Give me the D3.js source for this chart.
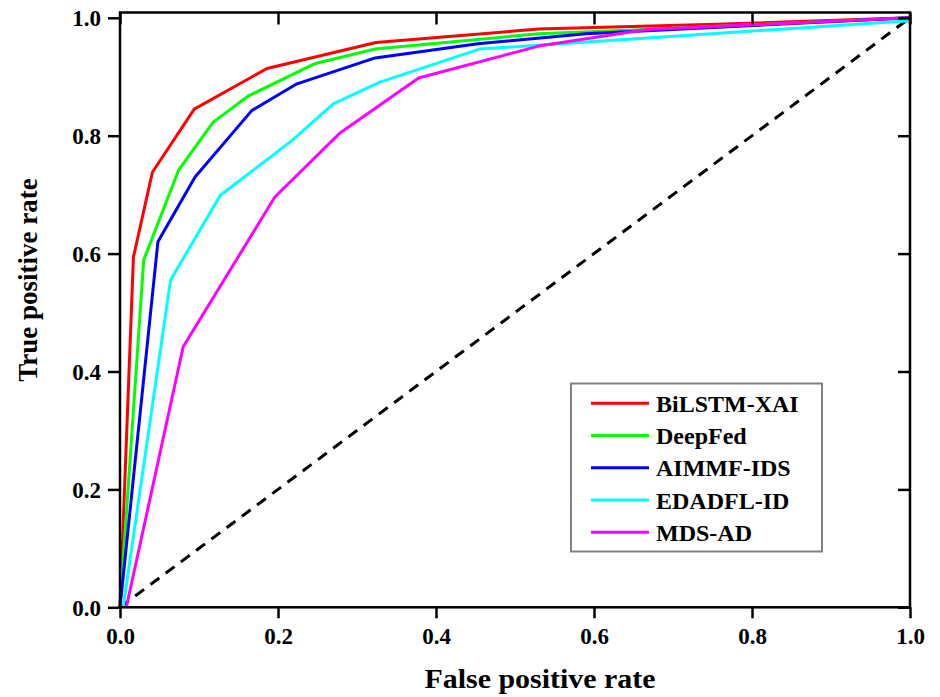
<!DOCTYPE html>
<html>
<head>
<meta charset="utf-8">
<script src="https://cdn.jsdelivr.net/npm/d3@7"></script>
<style>
  html, body { margin: 0; padding: 0; background: #fff; }
  svg { display: block; }
  text { font-family: "Liberation Serif", "Times New Roman", serif; font-weight: bold; fill: #000; }
</style>
</head>
<body>
<svg id="chart" width="940" height="697"></svg>
<script>
// ---- data ----
const seriesNames = ["BiLSTM-XAI", "DeepFed", "AIMMF-IDS", "EDADFL-ID", "MDS-AD"];
const seriesColors = ["#ff0000", "#00ff00", "#0000ff", "#00ffff", "#ff00ff"];

const bilstmFpr = [0, 0.017, 0.041, 0.094, 0.186, 0.324, 0.53, 0.754, 1];
const bilstmTpr = [0, 0.594, 0.738, 0.845, 0.914, 0.958, 0.981, 0.989, 1];

const deepfedFpr = [0, 0.030, 0.074, 0.118, 0.162, 0.246, 0.323, 0.53, 0.667, 1];
const deepfedTpr = [0, 0.589, 0.741, 0.823, 0.867, 0.922, 0.947, 0.973, 0.98, 1];

const aimmfFpr = [0, 0.048, 0.095, 0.167, 0.224, 0.323, 0.453, 0.59, 1];
const aimmfTpr = [0, 0.620, 0.730, 0.843, 0.888, 0.932, 0.956, 0.973, 1];

const edadflFpr = [0.004, 0.064, 0.127, 0.218, 0.27, 0.329, 0.455, 1];
const edadflTpr = [0, 0.555, 0.699, 0.792, 0.854, 0.891, 0.947, 0.995];

const mdsFpr = [0.008, 0.08, 0.196, 0.278, 0.378, 0.53, 0.667, 1];
const mdsTpr = [0, 0.442, 0.696, 0.804, 0.898, 0.952, 0.98, 1];

const chanceFpr = [0, 1];
const chanceTpr = [0, 1];

const tickValues = [0, 0.2, 0.4, 0.6, 0.8, 1.0];
const xTitle = "False positive rate";
const yTitle = "True positive rate";

// ---- build ----
const seriesFpr = [bilstmFpr, deepfedFpr, aimmfFpr, edadflFpr, mdsFpr];
const seriesTpr = [bilstmTpr, deepfedTpr, aimmfTpr, edadflTpr, mdsTpr];
const series = seriesNames.map((name, i) => ({
  name, color: seriesColors[i],
  points: seriesFpr[i].map((f, j) => [f, seriesTpr[i][j]])
}));

const svg = d3.select("#chart");
const x = d3.scaleLinear().domain([0, 1]).range([120, 910]);
const y = d3.scaleLinear().domain([0, 1.009]).range([607.3, 12.5]);

const line = d3.line().x(d => x(d[0])).y(d => y(d[1]));

// chance diagonal
svg.append("path")
  .datum(chanceFpr.map((f, i) => [f, chanceTpr[i]]))
  .attr("d", line)
  .attr("fill", "none")
  .attr("stroke", "#000")
  .attr("stroke-width", 3)
  .attr("stroke-dasharray", "11,8");

// series
svg.append("g").selectAll("path")
  .data(series)
  .join("path")
  .attr("d", d => line(d.points))
  .attr("fill", "none")
  .attr("stroke", d => d.color)
  .attr("stroke-width", 3)
  .attr("stroke-linejoin", "round");

// axes
const fmt = d3.format(".1f");
const bottomAxis = svg.append("g").attr("transform", `translate(0,${y(0)})`)
  .call(d3.axisBottom(x).tickValues(tickValues).tickFormat(fmt).tickSize(11).tickPadding(9));
const leftAxis = svg.append("g").attr("transform", `translate(${x(0)},0)`)
  .call(d3.axisLeft(y).tickValues(tickValues).tickFormat(fmt).tickSize(12).tickPadding(7));
const topAxis = svg.append("g").attr("transform", `translate(0,${y.range()[1]})`)
  .call(d3.axisBottom(x).tickValues(tickValues).tickFormat("").tickSize(12));
const rightAxis = svg.append("g").attr("transform", `translate(${x(1)},0)`)
  .call(d3.axisLeft(y).tickValues(tickValues).tickFormat("").tickSize(12));

[bottomAxis, leftAxis, topAxis, rightAxis].forEach(g => {
  g.select(".domain").remove();
  g.selectAll(".tick line").attr("stroke", "#000").attr("stroke-width", 2.5);
  g.selectAll(".tick text")
    .attr("font-family", "'Liberation Serif', 'Times New Roman', serif")
    .attr("font-weight", "bold")
    .attr("font-size", 23)
    .attr("fill", "#000");
});
leftAxis.selectAll(".tick text").attr("dy", "0.34em");

// frame
svg.append("rect")
  .attr("x", x(0)).attr("y", y.range()[1])
  .attr("width", x(1) - x(0)).attr("height", y(0) - y.range()[1])
  .attr("fill", "none").attr("stroke", "#000").attr("stroke-width", 2.5);

// axis titles
svg.append("text")
  .attr("x", 540).attr("y", 688)
  .attr("text-anchor", "middle")
  .attr("font-size", 27)
  .attr("textLength", 231)
  .attr("lengthAdjust", "spacingAndGlyphs")
  .text(xTitle);

svg.append("text")
  .attr("transform", "translate(36.5,280) rotate(-90)")
  .attr("text-anchor", "middle")
  .attr("font-size", 27)
  .text(yTitle);

// legend
const legend = svg.append("g");
legend.append("rect")
  .attr("x", 571).attr("y", 383.5)
  .attr("width", 251).attr("height", 168)
  .attr("fill", "#fff").attr("stroke", "#808080").attr("stroke-width", 2);

const rowY = d3.scalePoint().domain(seriesNames).range([403.3, 532.3]);
const rows = legend.selectAll("g.row").data(series).join("g").attr("class", "row")
  .attr("transform", d => `translate(0,${rowY(d.name)})`);
rows.append("line")
  .attr("x1", 591).attr("x2", 649).attr("y1", 0).attr("y2", 0)
  .attr("stroke", d => d.color).attr("stroke-width", 3);
rows.append("text")
  .attr("x", 656).attr("y", 8.5)
  .attr("font-size", 24)
  .text(d => d.name);
</script>
</body>
</html>
